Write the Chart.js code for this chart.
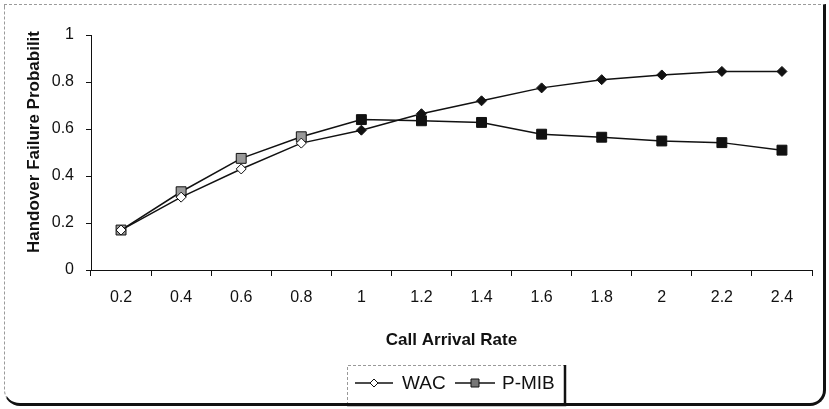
<!DOCTYPE html>
<html>
<head>
<meta charset="utf-8">
<script src="https://cdn.jsdelivr.net/npm/chart.js@4"></script>
<style>
  html, body { margin: 0; padding: 0; background: #fff; }
  #wrap { position: relative; width: 829px; height: 409px; overflow: hidden; }
  #c { position: absolute; left: 0; top: 0; }
  #frame {
    position: absolute; left: 4px; top: 4px; width: 822px; height: 402px;
    box-sizing: border-box; pointer-events: none;
    border-top: 1px dashed #9a9a9a; border-left: 1px dashed #9a9a9a;
    border-right: 3px solid #111; border-bottom: 3px solid #111;
    border-radius: 0 0 16px 16px;
  }
</style>
</head>
<body>
<div id="wrap">
  <canvas id="c" width="829" height="409"></canvas>
  <div id="frame"></div>
</div>
<script>
const categories = ['0.2','0.4','0.6','0.8','1','1.2','1.4','1.6','1.8','2','2.2','2.4'];
const wacValues  = [0.17, 0.31, 0.43, 0.54, 0.595, 0.665, 0.72, 0.775, 0.81, 0.83, 0.845, 0.845];
const pmibValues = [0.17, 0.333, 0.475, 0.567, 0.64, 0.635, 0.628, 0.578, 0.565, 0.549, 0.542, 0.51];
const seriesNames = ['WAC', 'P-MIB'];
const yAxisTitle = 'Handover Failure Probabilit';
const xAxisTitle = 'Call Arrival Rate';
const yMin = 0, yMax = 1, yStep = 0.2;

const FONT = '"Liberation Sans", Arial, sans-serif';

const titlesAndLegend = {
  id: 'titlesAndLegend',
  afterDraw(chart) {
    const ctx = chart.ctx;
    const area = chart.chartArea;
    ctx.save();
    ctx.fillStyle = '#111';
    ctx.font = 'bold 17px ' + FONT;
    ctx.textAlign = 'center';
    ctx.textBaseline = 'middle';
    ctx.translate(34, 142);
    ctx.rotate(-Math.PI / 2);
    ctx.fillText(yAxisTitle, 0, 0);
    ctx.restore();

    ctx.save();
    ctx.fillStyle = '#111';
    ctx.font = 'bold 17px ' + FONT;
    ctx.textAlign = 'center';
    ctx.textBaseline = 'middle';
    ctx.fillText(xAxisTitle, (area.left + area.right) / 2, 340);
    ctx.restore();

    // legend
    const bx = 347, by = 365, bw = 218, bh = 40;
    ctx.save();
    ctx.strokeStyle = '#999';
    ctx.lineWidth = 1;
    ctx.setLineDash([3, 2]);
    ctx.beginPath();
    ctx.moveTo(bx + 0.5, by + bh); ctx.lineTo(bx + 0.5, by + 0.5); ctx.lineTo(bx + bw, by + 0.5);
    ctx.stroke();
    ctx.setLineDash([]);
    ctx.strokeStyle = '#111';
    ctx.lineWidth = 2.5;
    ctx.beginPath();
    ctx.moveTo(bx + bw, by); ctx.lineTo(bx + bw, by + bh); ctx.lineTo(bx, by + bh);
    ctx.stroke();

    const items = [
      { x0: 355, x1: 393, text: 402 },
      { x0: 455, x1: 495, text: 502 }
    ];
    const cy = by + 18;
    chart.data.datasets.forEach((ds, i) => {
      const it = items[i];
      ctx.strokeStyle = '#111';
      ctx.lineWidth = 1.5;
      ctx.beginPath();
      ctx.moveTo(it.x0, cy); ctx.lineTo(it.x1, cy);
      ctx.stroke();
      const mx = (it.x0 + it.x1) / 2;
      ctx.fillStyle = i === 0 ? '#fff' : '#777';
      ctx.strokeStyle = '#111';
      ctx.lineWidth = 1;
      ctx.beginPath();
      if (ds.pointStyle === 'rectRot') {
        const r = 4;
        ctx.moveTo(mx, cy - r); ctx.lineTo(mx + r, cy); ctx.lineTo(mx, cy + r); ctx.lineTo(mx - r, cy); ctx.closePath();
      } else {
        ctx.rect(mx - 4, cy - 4, 8, 8);
      }
      ctx.fill(); ctx.stroke();
      ctx.fillStyle = '#111';
      ctx.font = '19px ' + FONT;
      ctx.textAlign = 'left';
      ctx.textBaseline = 'middle';
      ctx.fillText(ds.label, it.text, cy + 1);
    });
    ctx.restore();
  }
};

new Chart(document.getElementById('c'), {
  type: 'line',
  data: {
    labels: categories,
    datasets: [
      {
        label: seriesNames[0],
        data: wacValues,
        borderColor: '#111',
        borderWidth: 1.5,
        pointStyle: 'rectRot',
        pointRadius: 5,
        pointBorderColor: '#111',
        pointBorderWidth: 1,
        pointBackgroundColor: c => (c.dataIndex < 4 ? '#fff' : '#111'),
        tension: 0
      },
      {
        label: seriesNames[1],
        data: pmibValues,
        borderColor: '#111',
        borderWidth: 1.5,
        pointStyle: 'rect',
        pointRadius: 7,
        pointBorderColor: '#111',
        pointBorderWidth: 1,
        pointBackgroundColor: c => (c.dataIndex < 4 ? '#999' : '#111'),
        tension: 0
      }
    ]
  },
  options: {
    responsive: false,
    animation: false,
    layout: { padding: { left: 0, top: 35, right: 17, bottom: 59 } },
    plugins: { legend: { display: false }, tooltip: { enabled: false }, title: { display: false } },
    scales: {
      x: {
        type: 'category',
        offset: true,
        afterFit: s => { s.height = 80; },
        grid: { display: true, drawOnChartArea: false, offset: true, tickLength: 6, color: '#111' },
        border: { display: true, color: '#111', width: 1 },
        ticks: { color: '#111', font: { family: FONT, size: 16 }, padding: 12, maxRotation: 0, autoSkip: false }
      },
      y: {
        min: yMin, max: yMax,
        afterFit: s => { s.width = 91; },
        grid: { display: true, drawOnChartArea: false, tickLength: 5, color: '#111' },
        border: { display: true, color: '#111', width: 1 },
        ticks: {
          stepSize: yStep, color: '#111', font: { family: FONT, size: 16 }, padding: 12,
          callback: v => String(Math.round(v * 10) / 10)
        }
      }
    }
  },
  plugins: [titlesAndLegend]
});
</script>
</body>
</html>
